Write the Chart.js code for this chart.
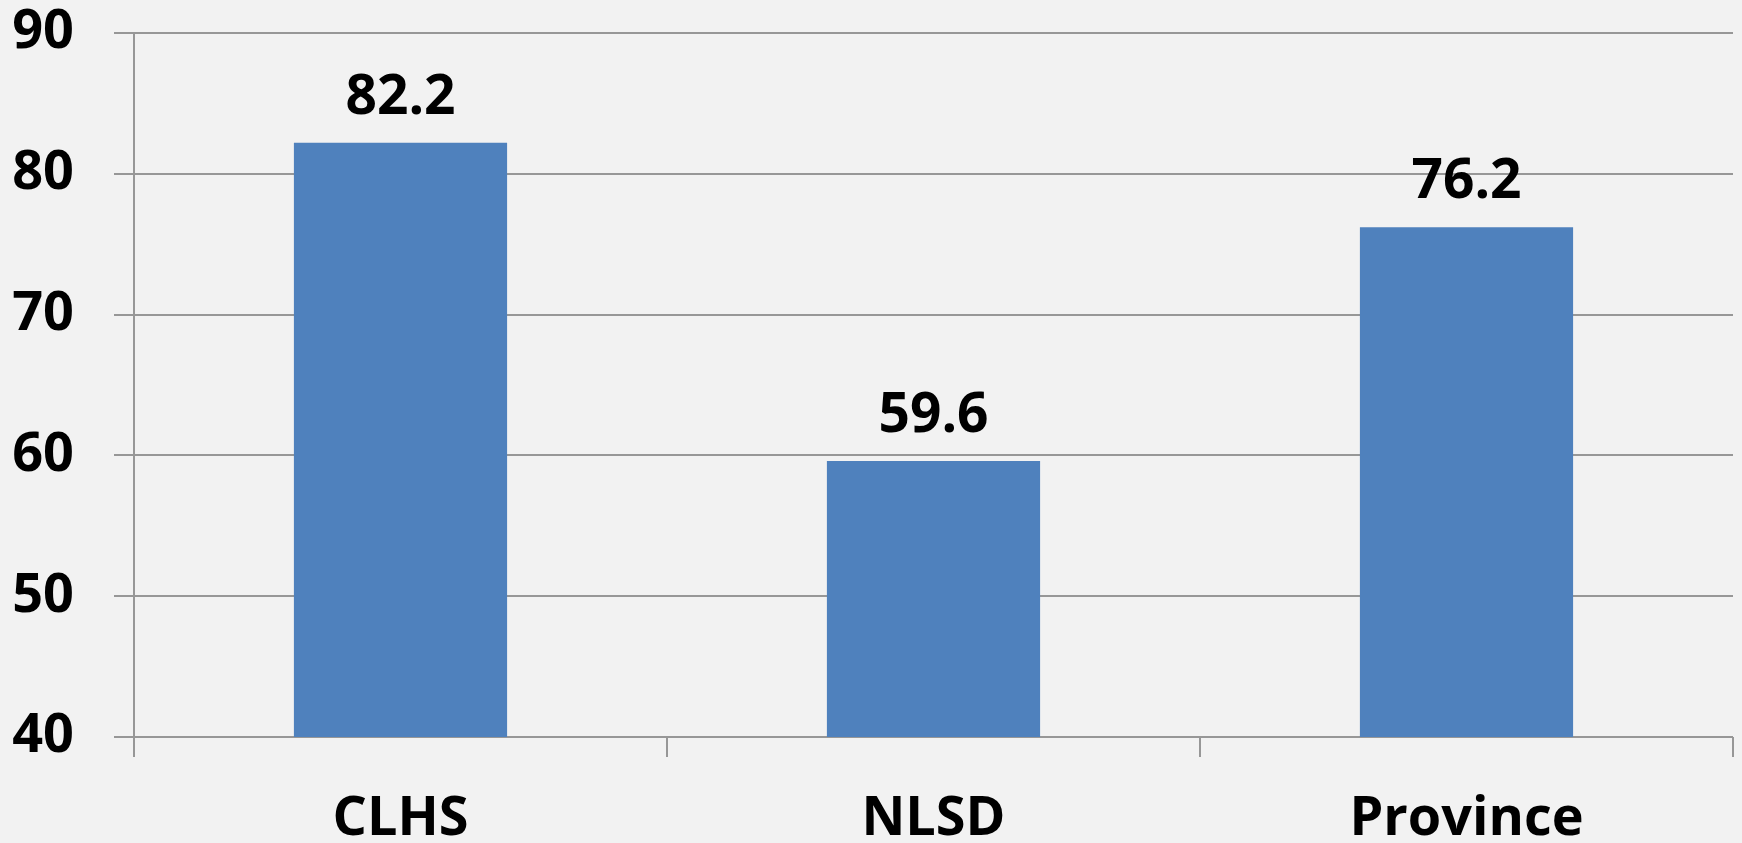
<!DOCTYPE html>
<html>
<head>
<meta charset="utf-8">
<script src="https://cdn.jsdelivr.net/npm/chart.js@4/dist/chart.umd.min.js"></script>
<style>
    html, body { margin: 0; padding: 0; background: #f2f2f2; }
    #wrap { width: 1742px; height: 843px; }
</style>
</head>
<body>
<div id="wrap"><canvas id="barChart" width="1742" height="843"></canvas></div>
<script>
const categories = ["CLHS", "NLSD", "Province"];
const scores = [82.2, 59.6, 76.2];
const yTicks = [40, 50, 60, 70, 80, 90];

const gridGray = "#979797";
const labelFont = { family: "'Open Sans', sans-serif", size: 54, weight: "bold" };

// puts the value above each bar
const valueLabels = {
    id: "valueLabels",
    afterDatasetsDraw(chart) {
        const ctx = chart.ctx;
        const meta = chart.getDatasetMeta(0);
        ctx.save();
        ctx.font = "bold 55px 'Open Sans', sans-serif";
        ctx.fillStyle = "#000";
        ctx.textAlign = "center";
        ctx.textBaseline = "alphabetic";
        meta.data.forEach((bar, i) => {
            ctx.fillText(scores[i].toFixed(1), bar.x, bar.y - 29);
        });
        ctx.restore();
    }
};

const ctx = document.getElementById("barChart").getContext("2d");
new Chart(ctx, {
    type: "bar",
    data: {
        labels: categories,
        datasets: [{
            data: scores,
            backgroundColor: "#4f81bd",
            borderWidth: 0,
            categoryPercentage: 1,
            barPercentage: 0.4
        }]
    },
    options: {
        responsive: false,
        animation: false,
        layout: { padding: { left: 12, right: 9, top: 33, bottom: 0 } },
        plugins: {
            legend: { display: false },
            tooltip: { enabled: false }
        },
        scales: {
            x: {
                afterFit: (axis) => {
                    axis.height = 106;
                    axis.paddingLeft = 0;
                    axis.paddingRight = 0;
                },
                grid: {
                    offset: true,
                    drawOnChartArea: false,
                    drawTicks: true,
                    tickLength: 20,
                    color: gridGray,
                    lineWidth: 2
                },
                border: { display: false },
                ticks: {
                    color: "#000",
                    font: labelFont,
                    padding: 30
                }
            },
            y: {
                min: 40,
                max: 90,
                afterBuildTicks: (axis) => {
                    axis.ticks = yTicks.map(v => ({ value: v }));
                },
                afterFit: (axis) => {
                    axis.width = 122;
                    axis.paddingTop = 0;
                    axis.paddingBottom = 0;
                },
                grid: {
                    color: gridGray,
                    lineWidth: 2,
                    tickLength: 20
                },
                border: { color: gridGray, width: 2 },
                ticks: {
                    color: "#000",
                    font: labelFont,
                    padding: 40
                }
            }
        }
    },
    plugins: [valueLabels]
});
</script>
</body>
</html>
